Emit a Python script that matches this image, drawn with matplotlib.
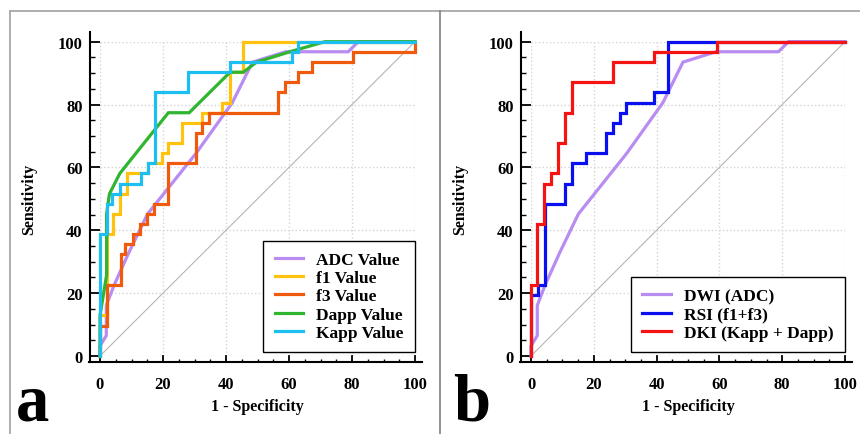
"""ROC curves of the diffusion parameters, panels a and b."""

from matplotlib import pyplot
from matplotlib.lines import Line2D

# Vertices of the ROC curves: 1 - specificity (x) and sensitivity (y), in %.
adc_x = [0, 0, 2.0, 2.0, 4.5, 9.2, 15.1, 30.5, 42.0, 48.4, 58.9, 78.8, 82.0, 100]
adc_y = [0, 3.2, 6.5, 16.1, 22.6, 33.0, 45.2, 64.5, 80.6, 93.5, 96.8, 96.8, 100, 100]

f1_x = [0, 0, 2.1, 2.1, 4.2, 4.2, 6.3, 6.3, 8.7, 8.7, 15.1, 15.1, 19.6, 19.6,
        21.5, 21.5, 26.1, 26.1, 32.5, 32.5, 38.8, 38.8, 41.3, 41.3, 45.5, 45.5, 100]
f1_y = [0, 12.9, 12.9, 38.7, 38.7, 45.2, 45.2, 51.6, 51.6, 58.1, 58.1, 61.3, 61.3, 64.5,
        64.5, 67.7, 67.7, 74.2, 74.2, 77.4, 77.4, 80.6, 80.6, 90.3, 90.3, 100, 100]

f3_x = [0, 0, 2.3, 2.3, 6.6, 6.6, 8.0, 8.0, 10.6, 10.6, 12.7, 12.7, 14.8, 14.8,
        17.2, 17.2, 21.5, 21.5, 30.4, 30.4, 32.5, 32.5, 34.6, 34.6, 56.6, 56.6,
        58.7, 58.7, 63.0, 63.0, 67.2, 67.2, 80.4, 80.4, 100, 100]
f3_y = [0, 9.7, 9.7, 22.6, 22.6, 32.3, 32.3, 35.5, 35.5, 38.7, 38.7, 41.9, 41.9, 45.2,
        45.2, 48.4, 48.4, 61.3, 61.3, 71.0, 71.0, 74.2, 74.2, 77.4, 77.4, 83.9,
        83.9, 87.1, 87.1, 90.3, 90.3, 93.5, 93.5, 96.8, 96.8, 100]

dapp_x = [0, 0, 2.1, 2.1, 3.0, 6.3, 21.7, 28.3, 41.3, 45.5, 49.7, 60.3, 71.4, 100]
dapp_y = [0, 12.9, 25.8, 45.2, 51.6, 58.1, 77.4, 77.4, 90.3, 90.3, 93.5, 96.8, 100, 100]

kapp_x = [0, 0, 2.1, 2.1, 3.7, 3.7, 6.3, 6.3, 13.0, 13.0, 15.1, 15.1, 17.5, 17.5,
          28.0, 28.0, 41.3, 41.3, 60.8, 60.8, 62.7, 62.7, 100]
kapp_y = [0, 38.7, 38.7, 48.4, 48.4, 51.6, 51.6, 54.8, 54.8, 58.1, 58.1, 61.3, 61.3, 83.9,
          83.9, 90.3, 90.3, 93.5, 93.5, 96.8, 96.8, 100, 100]

rsi_x = [0, 0, 2.3, 2.3, 4.5, 4.5, 10.8, 10.8, 13.0, 13.0, 17.5, 17.5, 23.9, 23.9,
         26.2, 26.2, 28.3, 28.3, 30.3, 30.3, 39.3, 39.3, 43.5, 43.5, 100]
rsi_y = [0, 19.4, 19.4, 22.6, 22.6, 48.4, 48.4, 54.8, 54.8, 61.3, 61.3, 64.5, 64.5, 71.0,
         71.0, 74.2, 74.2, 77.4, 77.4, 80.6, 80.6, 83.9, 83.9, 100, 100]

dki_x = [0, 0, 2.0, 2.0, 4.2, 4.2, 6.4, 6.4, 8.7, 8.7, 10.8, 10.8, 13.0, 13.0,
         26.2, 26.2, 39.3, 39.3, 59.1, 59.1, 100]
dki_y = [0, 22.6, 22.6, 41.9, 41.9, 54.8, 54.8, 58.1, 58.1, 67.7, 67.7, 77.4, 77.4, 87.1,
         87.1, 93.5, 93.5, 96.8, 96.8, 100, 100]

ticks = [0, 20, 40, 60, 80, 100]
minor_ticks = list(range(0, 101, 5))

# Curves for each panel: (x, y, label, colour).
panel_a = [(adc_x, adc_y, 'ADC Value', '#b98cf2'),
           (f1_x, f1_y, 'f1 Value', '#ffc20e'),
           (f3_x, f3_y, 'f3 Value', '#f05a0c'),
           (dapp_x, dapp_y, 'Dapp Value', '#2fb52f'),
           (kapp_x, kapp_y, 'Kapp Value', '#1cbff0')]
panel_b = [(adc_x, adc_y, 'DWI (ADC)', '#b98cf2'),
           (rsi_x, rsi_y, 'RSI (f1+f3)', '#0a0ff0'),
           (dki_x, dki_y, 'DKI (Kapp + Dapp)', '#f51414')]

pyplot.rc('font', family='Liberation Serif', weight='bold', size=12)
pyplot.rc('axes', labelweight='bold')
fig = pyplot.figure(figsize=(8.6, 4.35), dpi=100)


def draw_panel(rect, curves, letter, letter_x):
    ax = fig.add_axes(rect)
    ax.set_xlim(0, 100)
    ax.set_ylim(0, 100)
    ax.set_xticks(ticks)
    ax.set_yticks(ticks)
    ax.set_xticks(minor_ticks, minor=True)
    ax.set_yticks(minor_ticks, minor=True)
    ax.grid(True, which='major', color='#d4d4d4', linestyle=':', linewidth=1.0)
    ax.set_axisbelow(True)

    # Spines offset from the data area, as in the original software.
    for side in ('top', 'right'):
        ax.spines[side].set_visible(False)
    ax.spines['left'].set_position(('outward', 7.5))
    ax.spines['bottom'].set_position(('outward', 4.5))
    ax.spines['left'].set_bounds(-2, 103)
    ax.spines['bottom'].set_bounds(-3.5, 102.3)
    for side in ('left', 'bottom'):
        ax.spines[side].set_linewidth(1.5)
    ax.tick_params(axis='y', which='major', direction='in', length=7, width=1.3, pad=5)
    ax.tick_params(axis='y', which='minor', direction='in', length=3.5, width=1.0)
    ax.tick_params(axis='x', which='major', direction='in', length=5, width=1.3, pad=10)
    ax.tick_params(axis='x', which='minor', direction='in', length=2.5, width=1.0)

    ax.set_xlabel('1 - Specificity', fontsize=11.5, fontweight='bold')
    ax.set_ylabel('Sensitivity', fontsize=11.5, fontweight='bold')
    ax.xaxis.set_label_coords(0.5, -0.135)
    ax.yaxis.set_label_coords(-0.2, 0.5)

    # Reference diagonal.
    ax.plot([0, 100], [0, 100], color='#bdb2b2', linewidth=0.8, clip_on=False)
    for x, y, label, color in curves:
        ax.plot(x, y, color=color, linewidth=2.3, label=label, clip_on=False,
                solid_joinstyle='miter')

    legend = ax.legend(loc='lower right', bbox_to_anchor=(1.0, 0.012),
                       borderaxespad=0, fancybox=False, framealpha=1,
                       edgecolor='black', handlelength=1.65, handletextpad=0.75,
                       labelspacing=0.12, borderpad=0.65, fontsize=12.5)
    legend.get_frame().set_linewidth(1.0)

    fig.text(letter_x, 0.0, letter, fontsize=48, fontweight='bold',
             va='bottom', ha='left')
    return ax


draw_panel([100 / 860, 78 / 435, 315 / 860, 314.3 / 435], panel_a, 'a', 0.018)
draw_panel([531 / 860, 78 / 435, 314 / 860, 314.3 / 435], panel_b, 'b', 0.527)

# Frame lines around and between the panels.
for xs, ys, color in [([10 / 860, 10 / 860], [0, 1 - 12 / 435], '#a8a8a8'),
                      ([10 / 860, 1], [1 - 12 / 435, 1 - 12 / 435], '#a8a8a8'),
                      ([440 / 860, 440 / 860], [0, 1 - 12 / 435], '#888888')]:
    fig.add_artist(Line2D(xs, ys, color=color, linewidth=1.3))

fig.savefig('out.png', dpi=100)
